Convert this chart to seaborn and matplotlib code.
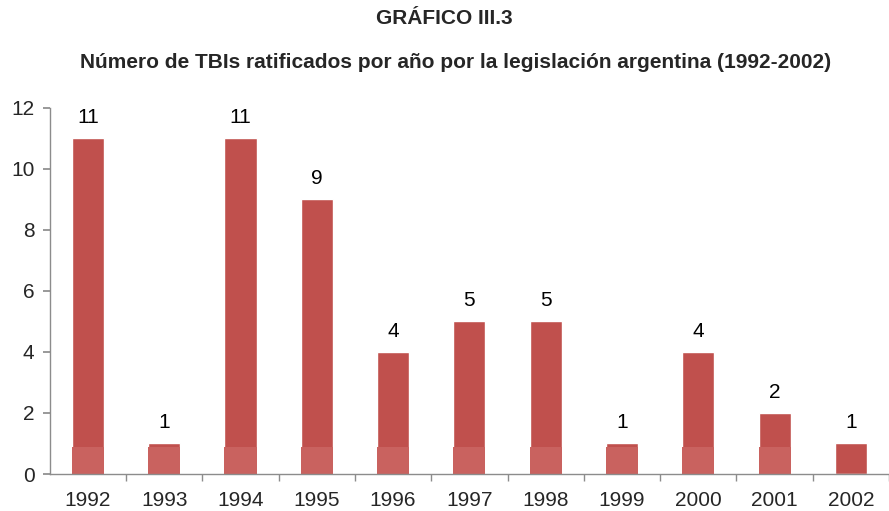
import matplotlib
matplotlib.use("Agg")
import matplotlib.pyplot as plt
import seaborn as sns
import pandas as pd
from matplotlib.patches import Rectangle

years = ["1992", "1993", "1994", "1995", "1996", "1997", "1998", "1999", "2000", "2001", "2002"]
counts = [11, 1, 11, 9, 4, 5, 5, 1, 4, 2, 1]

sns.set_theme(style="white")
plt.rcParams['font.family'] = ['Liberation Sans', 'DejaVu Sans']

df = pd.DataFrame({"year": years, "count": counts})

fig = plt.figure(figsize=(8.89, 5.11), dpi=100)
ax = fig.add_axes([0.056, 0.0724, 0.944, 0.7164])

sns.barplot(data=df, x="year", y="count", color="#C0504D", saturation=1,
            width=0.42, ax=ax)

# lighter lower band (rendering effect in the original)
band = 0.87
for i, p in enumerate(ax.patches[:len(years) - 1]):
    h = min(p.get_height(), band)
    ax.add_patch(Rectangle((p.get_x(), 0), p.get_width(), h,
                           facecolor="#C9625F", edgecolor="none", zorder=p.get_zorder() + 0.1))

for p, v in zip(ax.patches[:len(years)], counts):
    ax.annotate(str(v), (p.get_x() + p.get_width() / 2, v),
                xytext=(0, 8), textcoords="offset points",
                ha="center", va="bottom", fontsize=15, color="#000000")

ax.set_ylim(0, 12)
ax.set_xlim(-0.5, 10.41)
ax.set_yticks(range(0, 13, 2))
ax.set_xlabel("")
ax.set_ylabel("")

for s in ["top", "right"]:
    ax.spines[s].set_visible(False)
for s in ["left", "bottom"]:
    ax.spines[s].set_color("#8C8C8C")
    ax.spines[s].set_linewidth(1)

# x ticks at category boundaries
ax.set_xticks([i + 0.5 for i in range(len(years))], minor=True)
ax.tick_params(axis="x", which="minor", length=5, color="#8C8C8C", direction="out", bottom=True)
ax.tick_params(axis="x", which="major", length=0, labelsize=15, pad=12)
ax.tick_params(axis="y", length=5, color="#8C8C8C", direction="out", left=True, labelsize=15, pad=6)

fig.text(0.5, 0.963, "GRÁFICO III.3", ha="center", va="center",
         fontsize=15, fontweight="bold")
fig.text(0.513, 0.877, "Número de TBIs ratificados por año por la legislación argentina (1992-2002)",
         ha="center", va="center", fontsize=15, fontweight="bold")

fig.savefig("out.png", dpi=100)
